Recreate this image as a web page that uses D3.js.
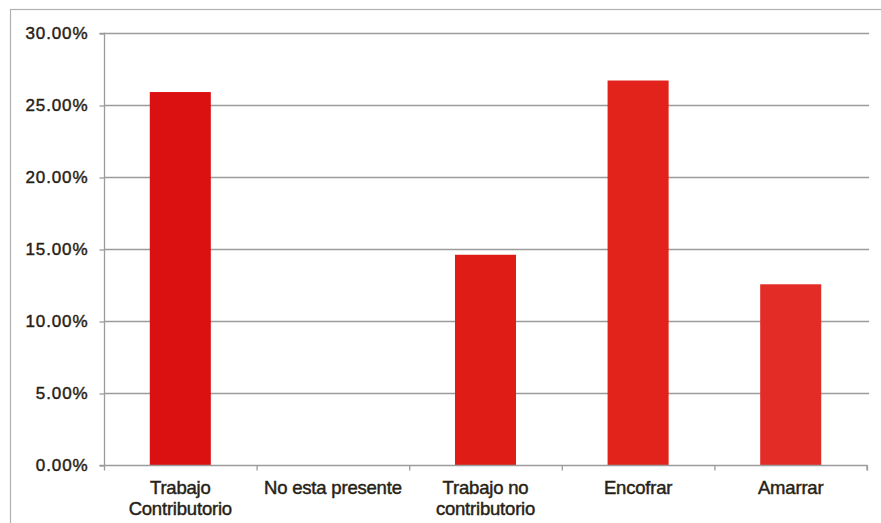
<!DOCTYPE html>
<html>
<head>
<meta charset="utf-8">
<script src="https://cdn.jsdelivr.net/npm/d3@7"></script>
<style>
  html, body { margin: 0; padding: 0; background: #fff; }
  svg { display: block; }
  text { font-family: "Liberation Sans", Arial, sans-serif; fill: #272216; }
</style>
</head>
<body>
<svg id="chart" width="881" height="523"></svg>
<script>
// Categories (each label split into its printed lines) and their shares
const categories = [
  ["Trabajo", "Contributorio"],
  ["No esta presente"],
  ["Trabajo no", "contributorio"],
  ["Encofrar"],
  ["Amarrar"]
];
const values = [0.259, 0, 0.146, 0.267, 0.1255];
const yTicks = [0, 0.05, 0.10, 0.15, 0.20, 0.25, 0.30];

const barColors = ["#db1010", "#dd1712", "#df1d16", "#e1231b", "#e42c27"];

const svg = d3.select("#chart");
const W = 881, H = 523;
const plot = { left: 104, right: 867, top: 33, bottom: 465 };

// Outer chart frame
svg.append("rect")
  .attr("x", 10.5).attr("y", 9.5)
  .attr("width", W + 10).attr("height", H + 10)
  .attr("fill", "#fff")
  .attr("stroke", "#b0b0b0").attr("stroke-width", 1.2);

const keys = categories.map(c => c.join(" "));
const x = d3.scaleBand().domain(keys).range([plot.left, plot.right]).paddingInner(0.6).paddingOuter(0.3);
const xEdge = d3.scaleLinear().domain([0, keys.length]).range([plot.left, plot.right]);
const y = d3.scaleLinear().domain([0, 0.30]).range([plot.bottom, plot.top]);

// Horizontal gridlines
svg.append("g")
  .selectAll("line")
  .data(yTicks.filter(t => t > 0))
  .join("line")
  .attr("x1", plot.left).attr("x2", 869)
  .attr("y1", d => Math.round(y(d)) + 0.5).attr("y2", d => Math.round(y(d)) + 0.5)
  .attr("stroke", "#9b9b9b").attr("stroke-width", 1.3);

// Bars
svg.append("g")
  .selectAll("rect")
  .data(values)
  .join("rect")
  .attr("x", (d, i) => x(keys[i]))
  .attr("y", d => y(d))
  .attr("width", x.bandwidth())
  .attr("height", d => y(0) - y(d))
  .attr("fill", (d, i) => barColors[i]);

// Y axis
const yAxis = d3.axisLeft(y)
  .tickValues(yTicks)
  .tickFormat(d3.format(".2%"))
  .tickSize(5)
  .tickPadding(11);
const gy = svg.append("g")
  .attr("transform", `translate(${plot.left + 0.5},0.5)`)
  .call(yAxis);
gy.select(".domain").attr("stroke", "#9b9b9b").attr("stroke-width", 1.3).attr("d", `M-5,${plot.top}H0V${plot.bottom}H-5`);
gy.selectAll(".tick line").attr("stroke", "#9b9b9b").attr("stroke-width", 1.3);
gy.selectAll(".tick text")
  .attr("font-size", 17)
  .attr("font-family", "\"Liberation Sans\", Arial, sans-serif")
  .attr("fill", "#272216")
  .attr("stroke", "#272216")
  .attr("stroke-width", 0.45)
  .attr("letter-spacing", "0.9px");

// X axis: baseline with ticks at category boundaries
const gx = svg.append("g").attr("transform", `translate(0,${plot.bottom + 0.5})`);
const xAxis = d3.axisBottom(xEdge).tickValues(d3.range(0, keys.length + 1)).tickSize(5).tickFormat("");
gx.call(xAxis);
gx.select(".domain").attr("stroke", "#9b9b9b").attr("stroke-width", 1.3).attr("d", `M${plot.left},0H${plot.right}V5`);
gx.selectAll(".tick line").attr("stroke", "#9b9b9b").attr("stroke-width", 1.3);

// Category labels
const labels = svg.append("g");
categories.forEach((lines, i) => {
  const cx = x(keys[i]) + x.bandwidth() / 2;
  const t = labels.append("text")
    .attr("x", cx)
    .attr("y", 494)
    .attr("text-anchor", "middle")
    .attr("font-size", 18.5)
    .attr("stroke", "#272216")
    .attr("stroke-width", 0.45)
    .attr("letter-spacing", "-0.2px");
  lines.forEach((ln, j) => {
    t.append("tspan").attr("x", cx).attr("dy", j === 0 ? 0 : 21).text(ln);
  });
});
</script>
</body>
</html>
